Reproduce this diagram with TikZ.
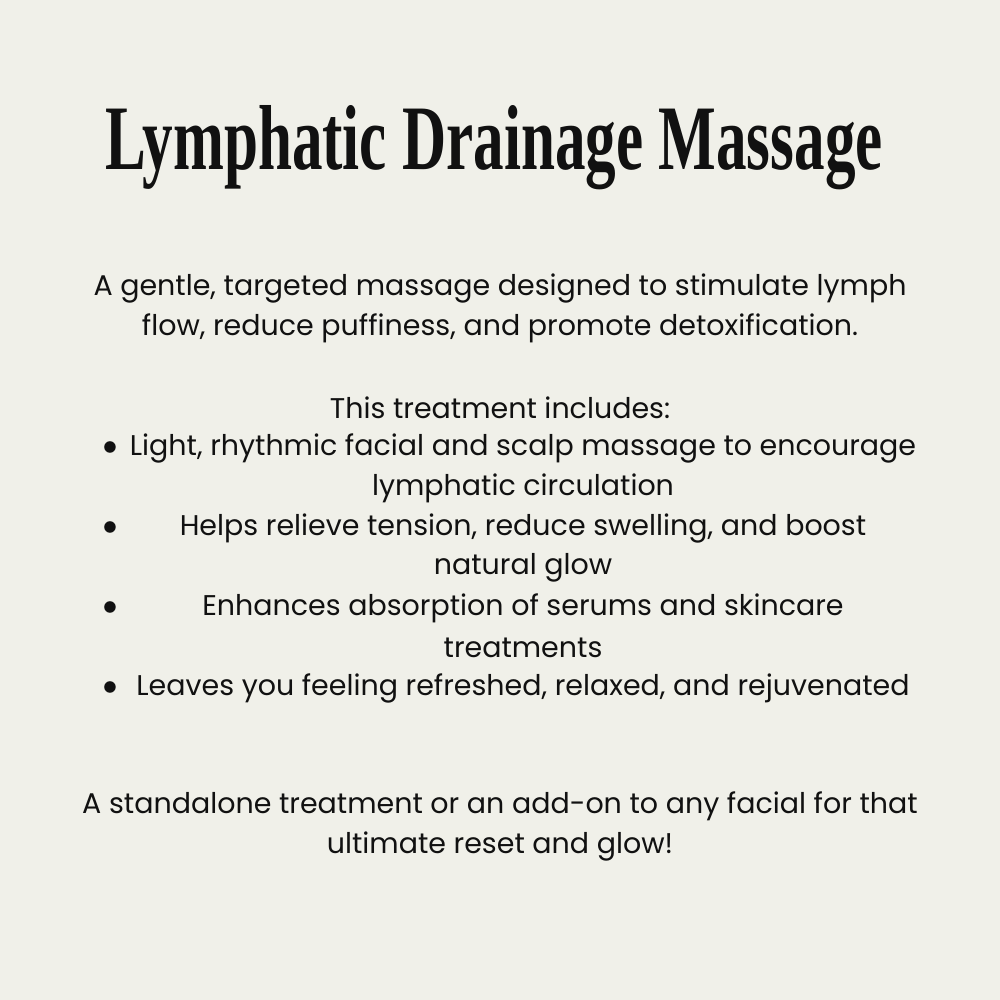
\documentclass[tikz,border=0pt]{standalone}
\usepackage{fontspec}
\setmainfont{Poppins}
\newfontfamily\titlefont{Liberation Serif}
\definecolor{paper}{HTML}{F0F0E9}
\definecolor{ink}{HTML}{111111}
\tikzset{
    every node/.style={inner sep=0pt, text=ink, font=\fontsize{8.1}{10}\selectfont},
    bodyline/.style={anchor=center},
    bulletdot/.style={anchor=center}
}
\begin{document}
\begin{tikzpicture}[x=0.01cm, y=-0.01cm]
\fill[paper] (0,0) rectangle (1000,1000);
\useasboundingbox (0,0) rectangle (1000,1000);
% title
\node (title) at (494,148) {\resizebox{7.77cm}{0.64cm}{\titlefont\bfseries\fontsize{20}{24}\selectfont Lymphatic Drainage Massage}};
% intro
\node[bodyline] (intro1) at (500,289) {A gentle, targeted massage designed to stimulate lymph};
\node[bodyline] (intro2) at (500,328) {flow, reduce puffiness, and promote detoxification.};
\node[bodyline] (incl) at (500,408) {This treatment includes:};
% bullets
\foreach \y in {448,528,608,688}
    \node[bulletdot] (dot\y) at (110,\y) {$\bullet$};
\node[bodyline] (b1a) at (523,448) {Light, rhythmic facial and scalp massage to encourage};
\node[bodyline] (b1b) at (523,488) {lymphatic circulation};
\node[bodyline] (b2a) at (523,528) {Helps relieve tension, reduce swelling, and boost};
\node[bodyline] (b2b) at (523,568) {natural glow};
\node[bodyline] (b3a) at (523,608) {Enhances absorption of serums and skincare};
\node[bodyline] (b3b) at (523,648) {treatments};
\node[bodyline] (b4a) at (523,688) {Leaves you feeling refreshed, relaxed, and rejuvenated};
% closing
\node[bodyline] (end1) at (500,806) {A standalone treatment or an add-on to any facial for that};
\node[bodyline] (end2) at (500,846) {ultimate reset and glow!};
\end{tikzpicture}
\end{document}
